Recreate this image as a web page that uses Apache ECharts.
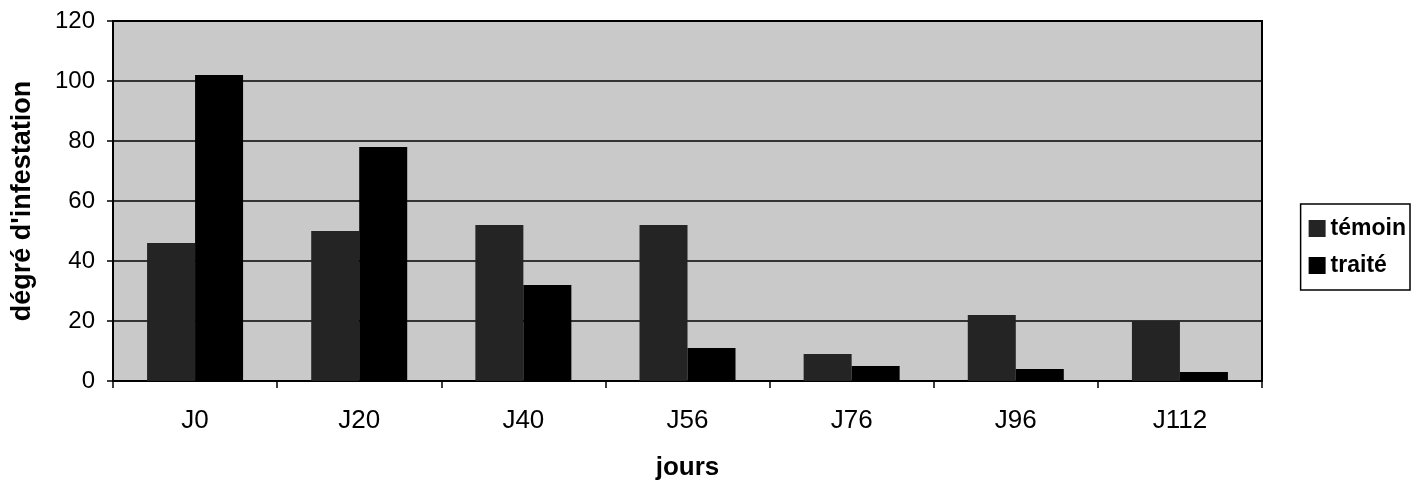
<!DOCTYPE html>
<html><head><meta charset="utf-8">
<script src="https://cdn.jsdelivr.net/npm/echarts@6/dist/echarts.min.js"></script>
<style>html,body{margin:0;padding:0;background:#fff}#c{width:1416px;height:490px}</style>
</head><body><div id="c"></div>
<script>
const categories = ['J0','J20','J40','J56','J76','J96','J112'];
const temoin = [46, 50, 52, 52, 9, 22, 20];
const traite = [102, 78, 32, 11, 5, 4, 3];
const yTicks = {min: 0, max: 120, interval: 20};

const chart = echarts.init(document.getElementById('c'), null, {renderer: 'canvas'});
const font = 'Liberation Sans, Arial, sans-serif';
chart.setOption({
  animation: false,
  backgroundColor: '#ffffff',
  grid: {left: 113, right: 154, top: 21, bottom: 109, show: true, backgroundColor: '#c9c9c9', borderColor: '#000', borderWidth: 2},
  legend: {
    orient: 'vertical', right: 6, top: 204,
    itemWidth: 17, itemHeight: 17, itemGap: 14,
    padding: [13, 4, 13, 8],
    borderColor: '#000', borderWidth: 1.5, borderRadius: 0,
    textStyle: {fontFamily: font, fontWeight: 'bold', fontSize: 23, color: '#000'},
    data: [{name: 'témoin', icon: 'rect'}, {name: 'traité', icon: 'rect'}]
  },
  xAxis: {
    type: 'category', data: categories,
    name: 'jours', nameLocation: 'middle', nameGap: 74,
    nameTextStyle: {fontFamily: font, fontWeight: 'bold', fontSize: 26, color: '#000'},
    axisLine: {lineStyle: {color: '#000', width: 2}},
    axisTick: {show: true, length: 7, lineStyle: {color: '#000', width: 1.5}},
    axisLabel: {fontFamily: font, fontSize: 26, color: '#000', margin: 27}
  },
  yAxis: {
    type: 'value', min: yTicks.min, max: yTicks.max, interval: yTicks.interval,
    name: "dégré d'infestation", nameLocation: 'middle', nameGap: 77,
    nameTextStyle: {fontFamily: font, fontWeight: 'bold', fontSize: 27, color: '#000'},
    axisLine: {show: true, lineStyle: {color: '#000', width: 2}},
    axisTick: {show: true, length: 6, lineStyle: {color: '#000', width: 1.5}},
    axisLabel: {fontFamily: font, fontSize: 24, color: '#000', margin: 18},
    splitLine: {show: true, lineStyle: {color: '#000', width: 1.5}}
  },
  series: [
    {name: 'témoin', type: 'bar', data: temoin, barWidth: 48, barGap: '0%',
     itemStyle: {color: '#242424'}},
    {name: 'traité', type: 'bar', data: traite, barWidth: 48,
     itemStyle: {color: '#000'}}
  ]
});
</script></body></html>
